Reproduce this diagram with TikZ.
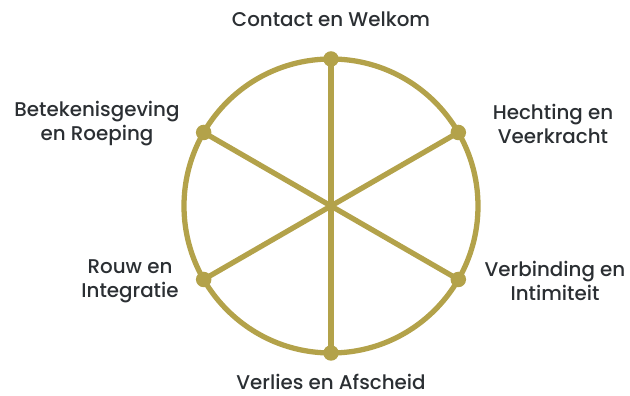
\documentclass[tikz,border=0pt]{standalone}
\usepackage{fontspec}
\setmainfont{Poppins Medium}
\usetikzlibrary{positioning, calc}
\definecolor{wheelGold}{HTML}{B3A24A}
\definecolor{wheelInk}{HTML}{2B2F33}
\tikzset{
  spoke/.style={draw=wheelGold, line width=3pt},
  hub/.style={circle, fill=wheelGold, inner sep=0pt, minimum size=0.31cm},
  phase/.style={align=center, text=wheelInk, font=\fontsize{11.3}{13.6}\selectfont, inner sep=0pt}
}
\begin{document}
\begin{tikzpicture}
    \useasboundingbox (0,0) rectangle (12.6,7.92);
    \coordinate (mid) at (6.62,3.80);
    \draw[spoke] (mid) circle (2.94);
    % dots on the rim
    \foreach \ang/\nm in {90/welkom, 30/hechting, 330/verbinding, 270/afscheid, 210/rouw, 150/roeping}
      \node[hub] (\nm) at ($(mid)+(\ang:2.94)$) {};
    \draw[spoke] (welkom.center) -- (afscheid.center);
    \draw[spoke] (hechting.center) -- (rouw.center);
    \draw[spoke] (roeping.center) -- (verbinding.center);
    % labels
    \node[phase] (lwelkom) at (6.62,7.54) {Contact en Welkom};
    \node[phase] (lroeping) at (1.94,5.44) {Betekenisgeving\\en Roeping};
    \node[phase] (lhechting) at (11.06,5.44) {Hechting en\\Veerkracht};
    \node[phase] (lrouw) at (2.60,2.30) {Rouw en\\Integratie};
    \node[phase] (lverbinding) at (11.10,2.30) {Verbinding en\\Intimiteit};
    \node[phase] (lafscheid) at (6.62,0.28) {Verlies en Afscheid};
\end{tikzpicture}
\end{document}
